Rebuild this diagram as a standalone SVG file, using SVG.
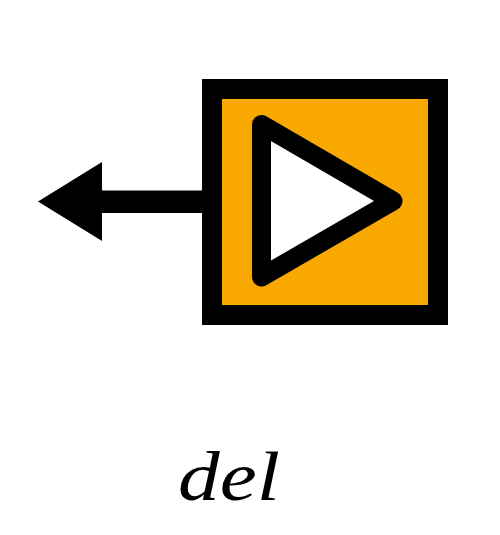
<svg xmlns="http://www.w3.org/2000/svg" width="500" height="535" viewBox="0 0 500 535">
  <style>
    .ink { stroke: #000; stroke-linejoin: round; }
    .label { font-family: "Liberation Serif", serif; font-style: italic; font-size: 70px; fill: #000; }
  </style>
  <rect width="500" height="535" fill="#fff"/>
  <g id="connectors">
    <rect x="100" y="190.5" width="104" height="22.5" fill="#000"/>
    <polygon points="38,201.5 102,162 102,241" fill="#000"/>
  </g>
  <g id="box">
    <rect x="212" y="89" width="226" height="226" fill="#f9a800" stroke="#000" stroke-width="20"/>
    <polygon class="ink" points="261.5,124.5 393,201 261.5,277" fill="#fff" stroke-width="19"/>
  </g>
  <g id="caption">
    <text class="label" x="178" y="500" textLength="102" lengthAdjust="spacingAndGlyphs">del</text>
  </g>
</svg>
